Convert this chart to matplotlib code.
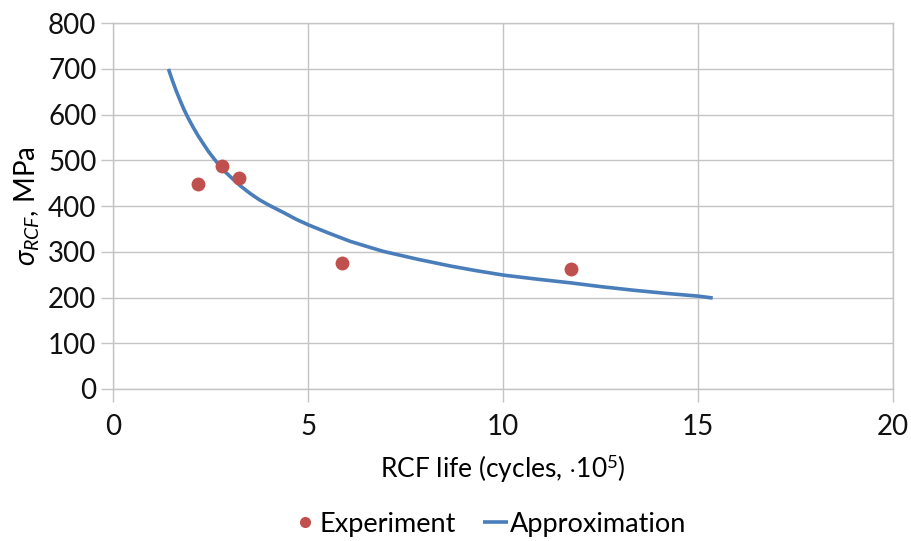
"""
RCF life vs contact stress: experiment points and power-law approximation.
"""
import matplotlib.pyplot as plt

plt.rcParams["font.family"] = ["Lato", "DejaVu Sans"]
plt.rcParams["mathtext.fontset"] = "custom"
plt.rcParams["mathtext.rm"] = "Lato"
plt.rcParams["mathtext.it"] = "Lato:italic"

# experiment (cycles x1e5, MPa)
exp_life = [2.17, 2.80, 3.22, 5.86, 11.75]
exp_stress = [449, 488, 461, 276, 263]

# approximation curve
appr_life = [1.42, 1.52, 1.62, 1.72, 1.82, 1.93, 2.05, 2.18, 2.31, 2.45, 2.65,
             2.85, 3.05, 3.27, 3.51, 3.75, 4.0, 4.37, 4.7, 5.01, 5.5, 6.08,
             6.5, 6.93, 7.8, 8.65, 9.3, 10.02, 10.9, 11.75, 12.5, 13.35, 14.2,
             15.02, 15.38]
appr_stress = [700, 675, 652, 631, 611, 592, 573, 554, 537, 519, 497,
               477, 461, 444, 428, 414, 402, 386, 371, 359, 342, 323,
               312, 301, 284, 269, 259, 249, 240, 232, 224, 216, 209,
               203, 199]

gridc = "#C4C4C4"

fig = plt.figure(figsize=(9.12, 5.41), dpi=100)
ax = fig.add_axes([0.124, 0.281, 0.855, 0.676])
ax.plot(appr_life, appr_stress, color="#4A7EBB", lw=2.6, label="Approximation",
        solid_capstyle="butt", solid_joinstyle="round", zorder=3)
ax.plot(exp_life, exp_stress, "o", color="#C0504D", ms=10, mec="none",
        label="Experiment", zorder=4)

ax.set_xlim(0, 20)
ax.set_ylim(0, 800)
ax.set_xticks(range(0, 21, 5))
ax.set_yticks(range(0, 801, 100))
ax.grid(True, color=gridc, lw=1)
for s in ax.spines.values():
    s.set_color(gridc)
    s.set_linewidth(1)
ax.tick_params(axis="both", color=gridc, length=9, width=1, labelsize=20,
               labelcolor="#111111")
ax.tick_params(axis="x", pad=9)
ax.tick_params(axis="y", pad=3)

ax.set_xlabel(r"RCF life (cycles, $\cdot$10$^5$)", fontsize=19, labelpad=9)
ax.set_ylabel(r"$\sigma_{RCF}$, MPa", fontsize=20, labelpad=4)

h, l = ax.get_legend_handles_labels()
fig.legend(h[::-1], l[::-1], loc="center", bbox_to_anchor=(0.537, 0.031),
           ncol=2, frameon=False, fontsize=19.5, handlelength=0.9,
           handletextpad=0.1, columnspacing=1.0, markerscale=0.8)

fig.savefig("out.png", dpi=100)
